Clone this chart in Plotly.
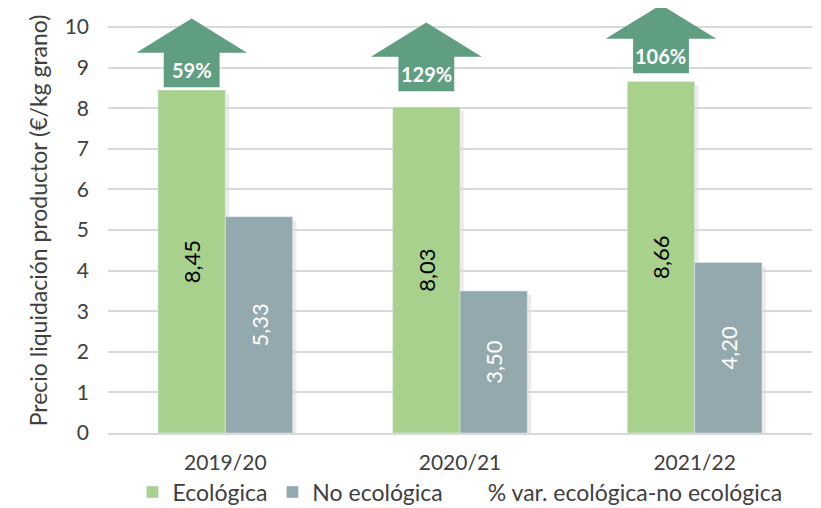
import plotly.graph_objects as go

campaigns = ["2019/20", "2020/21", "2021/22"]
ecologica = [8.45, 8.03, 8.66]
no_ecologica = [5.33, 3.50, 4.20]
pct_var = ["59%", "129%", "106%"]

series_names = ["Ecológica", "No ecológica", "% var. ecológica-no ecológica"]
y_title = "Precio liquidación productor (€/kg grano)"

GREEN = "#A9D18E"
GRAY = "#93A9AE"
ARROW = "#5F9E81"
TXT = "#404040"
FONT = "Lato"

def fmt(v):
    return f"{v:.2f}".replace(".", ",")

fig = go.Figure()
fig.add_trace(go.Bar(
    x=campaigns, y=ecologica, name=series_names[0], marker_color=GREEN,
    text=[fmt(v) for v in ecologica], textposition="inside", textangle=-90,
    insidetextanchor="middle", textfont=dict(color="#000000", size=22, family=FONT),
))
fig.add_trace(go.Bar(
    x=campaigns, y=no_ecologica, name=series_names[1], marker_color=GRAY,
    text=[fmt(v) for v in no_ecologica], textposition="inside", textangle=-90,
    insidetextanchor="middle", textfont=dict(color="#FFFFFF", size=22, family=FONT),
))
# legend-only entry for the arrow series (no visible symbol)
fig.add_trace(go.Scatter(
    x=[campaigns[0]], y=[None], mode="markers", name=series_names[2],
    marker=dict(color="rgba(0,0,0,0)", size=1, line=dict(width=0)),
))

bargap = 0.426
half_bar = (1 - bargap) / 2
shapes = []
annotations = []
arrow_gap = [0.07, 0.39, 0.2]
head_hw = 0.236
shaft_hw = 0.119
shaft_h = 0.85
head_h = 0.84
for i, (v, nv, lab) in enumerate(zip(ecologica, no_ecologica, pct_var)):
    cx = i - half_bar / 2
    yb = v + arrow_gap[i]
    ym = yb + shaft_h
    yt = ym + head_h
    path = (f"M {cx - shaft_hw} {yb} L {cx + shaft_hw} {yb} L {cx + shaft_hw} {ym} "
            f"L {cx + head_hw} {ym} L {cx} {yt} L {cx - head_hw} {ym} "
            f"L {cx - shaft_hw} {ym} Z")
    shapes.append(dict(type="path", path=path, xref="x", yref="y",
                       fillcolor=ARROW, line=dict(width=0), layer="above"))
    annotations.append(dict(x=cx, y=yb + shaft_h / 2, xref="x", yref="y",
                            text=f"<b>{lab}</b>", showarrow=False,
                            font=dict(color="white", size=20, family=FONT)))
    # soft shadows to the right of the bars
    for right, top in [(i, v), (i + half_bar, nv)]:
        shapes.append(dict(type="rect", xref="x", yref="y", x0=right, x1=right + 0.016,
                           y0=0, y1=top - 0.1, fillcolor="rgba(0,0,0,0.08)",
                           line=dict(width=0), layer="below"))

fig.update_layout(
    width=813, height=500,
    margin=dict(l=100, r=9, t=0, b=75, autoexpand=False),
    paper_bgcolor="white", plot_bgcolor="white",
    barmode="group", bargap=bargap, bargroupgap=0,
    font=dict(family=FONT, color=TXT, size=21),
    shapes=shapes, annotations=annotations,
    legend=dict(orientation="h", x=0.5, xanchor="center", y=-0.139, yanchor="middle",
                font=dict(size=23, color=TXT, family=FONT), itemwidth=30,
                traceorder="normal"),
    showlegend=True,
)
fig.update_xaxes(showgrid=False, showline=True, linecolor="#D9D9D9", linewidth=1.5,
                 ticks="", ticklabelstandoff=10, automargin=False,
                 tickfont=dict(size=21, color=TXT, family=FONT))
fig.update_yaxes(range=[0, 10.47], tickvals=list(range(0, 11)), showgrid=True,
                 gridcolor="#D9D9D9", gridwidth=1.5, zeroline=False, automargin=False,
                 ticks="", ticklabelstandoff=18,
                 tickfont=dict(size=21, color=TXT, family=FONT),
                 title=dict(text=y_title, font=dict(size=23, color=TXT, family=FONT),
                            standoff=10))

fig.write_html("out.html")
